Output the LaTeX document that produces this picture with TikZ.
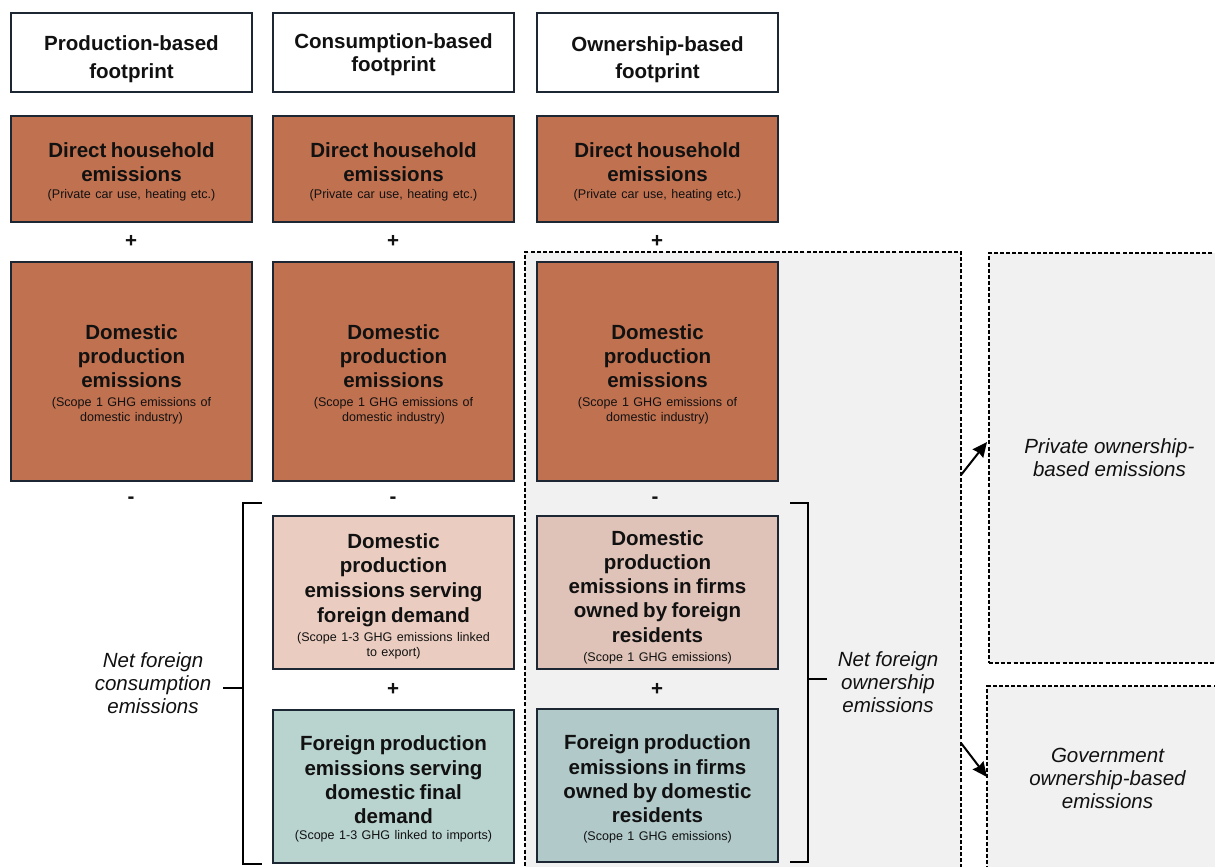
\documentclass[tikz,border=0pt]{standalone}
\usepackage{fontspec}
\setmainfont{Liberation Sans}
\usetikzlibrary{arrows.meta,calc}
\definecolor{edge}{HTML}{1C2733}
\definecolor{brick}{HTML}{C07150}
\definecolor{pinkA}{HTML}{EACDC0}
\definecolor{pinkB}{HTML}{E0C3B8}
\definecolor{tealA}{HTML}{B9D3CF}
\definecolor{tealB}{HTML}{B1C9C9}
\definecolor{greyfill}{HTML}{F1F1F1}
\definecolor{ink}{HTML}{111111}
% #1 baselineskip, #2 strut height of first line, #3 text
\newcommand{\ttl}[3]{{\fontsize{15.4}{#1}\selectfont\bfseries\rule{0pt}{#2}#3\par}}
\newcommand{\subt}[2][3pt]{{\vspace{#1}\fontsize{9.4}{11.25}\selectfont #2\par}}
\tikzset{
  box/.style={draw=edge, line width=1.5pt, minimum width=180.75pt, align=center,
    text width=176pt, inner sep=0pt, text=ink},
  headbox/.style={box, fill=white, minimum height=59.25pt},
  directbox/.style={box, fill=brick, minimum height=79.5pt},
  dombox/.style={box, fill=brick, minimum height=164.25pt},
  lowbox/.style={box, minimum height=114.75pt},
  dashbox/.style={draw=black, line width=0.9pt, dash pattern=on 3pt off 1.6pt, fill=greyfill},
  sign/.style={font=\fontsize{15.4}{18}\selectfont\bfseries, text=ink, inner sep=0pt},
  note/.style={font=\fontsize{15.4}{17.25}\selectfont\itshape, align=center, text=ink, inner sep=0pt},
  brack/.style={draw=black, line width=1.5pt},
  arr/.style={draw=black, line width=1.5pt, -{Stealth[length=11pt,width=10pt,inset=1pt]}},
}
\begin{document}
\begin{tikzpicture}[x=0.75pt,y=-0.75pt]
\useasboundingbox (0,0) rectangle (1215,867);
\clip (0,0) rectangle (1215,867);
\fill[white] (0,0) rectangle (1215,867);

% grey dashed regions
\node[dashbox, minimum width=327pt, minimum height=471pt, inner sep=0pt] (own) at (743,566) {};
\node[dashbox, minimum width=180.75pt, minimum height=307.5pt, inner sep=0pt, font=\fontsize{15.4}{17.25}\selectfont\itshape, align=center, text=ink] (priv) at (1109.5,458) {Private ownership-\\based emissions};
\node[dashbox, minimum width=180.75pt, minimum height=138pt, inner sep=0pt, font=\fontsize{15.4}{17.25}\selectfont\itshape, align=center, text=ink] (gov) at (1107.5,778) {Government\\ownership-based\\emissions};

% headers
\node[headbox] (h1) at (131.5,52.5) {\ttl{21pt}{21pt}{Production-based\\footprint}};
\node[headbox] (h2) at (393.5,52.5) {\ttl{17.25pt}{14.3pt}{Consumption-based\\footprint}};
\node[headbox] (h3) at (657.5,52.5) {\ttl{20.5pt}{21.5pt}{Ownership-based\\footprint}};

% direct household
\node[directbox] (d1) at (131.5,169) {\ttl{18pt}{15pt}{Direct household\\emissions}\subt[1.5pt]{(Private car use, heating etc.)}};
\node[directbox] (d2) at (393.5,169) {\ttl{18pt}{15pt}{Direct household\\emissions}\subt[1.5pt]{(Private car use, heating etc.)}};
\node[directbox] (d3) at (657.5,169) {\ttl{18pt}{15pt}{Direct household\\emissions}\subt[1.5pt]{(Private car use, heating etc.)}};

% domestic production
\node[dombox] (p1) at (131.5,371.5) {\ttl{18pt}{16pt}{Domestic\\production\\emissions}\subt{(Scope 1 GHG emissions of\\domestic industry)}};
\node[dombox] (p2) at (393.5,371.5) {\ttl{18pt}{16pt}{Domestic\\production\\emissions}\subt{(Scope 1 GHG emissions of\\domestic industry)}};
\node[dombox] (p3) at (657.5,371.5) {\ttl{18pt}{16pt}{Domestic\\production\\emissions}\subt{(Scope 1 GHG emissions of\\domestic industry)}};

% lower boxes
\node[lowbox, fill=pinkA] (c1) at (393.5,592.5) {\ttl{18.4pt}{16.5pt}{Domestic\\production\\emissions serving\\foreign demand}\subt{(Scope 1-3 GHG emissions linked\\to export)}};
\node[lowbox, fill=tealA] (c2) at (393.5,786.5) {\ttl{18.2pt}{15.1pt}{Foreign production\\emissions serving\\domestic final\\demand}\subt[0.75pt]{(Scope 1-3 GHG linked to imports)}};
\node[lowbox, fill=pinkB] (o1) at (657.5,592.5) {\ttl{18.2pt}{18pt}{Domestic\\production\\emissions in firms\\owned by foreign\\residents}\subt[3.25pt]{(Scope 1 GHG emissions)}};
\node[lowbox, fill=tealB] (o2) at (657.5,785.5) {\ttl{18.2pt}{16.5pt}{Foreign production\\emissions in firms\\owned by domestic\\residents}\subt[2.25pt]{(Scope 1 GHG emissions)}};

% signs
\node[sign] (s1) at (131,241) {+};
\node[sign] (s2) at (393,241) {+};
\node[sign] (s3) at (657,241) {+};
\node[sign] (m1) at (131,500) {-};
\node[sign] (m2) at (393,500) {-};
\node[sign] (m3) at (655,500) {-};
\node[sign] (s4) at (393,689) {+};
\node[sign] (s5) at (657,689) {+};

% brackets
\draw[brack] (262,503) -- (243,503) -- (243,864) -- (262,864);
\draw[brack] (243,688) -- (223,688);
\draw[brack] (790,503) -- (808,503) -- (808,862) -- (790,862);
\draw[brack] (808,679) -- (827,679);

\node[note] (ncons) at (153,683) {Net foreign\\consumption\\emissions};
\node[note] (nown) at (888,682) {Net foreign\\ownership\\emissions};

% arrows
\coordinate (a1s) at (961,475);
\coordinate (a1e) at (987,442);
\coordinate (a2s) at (961,743);
\coordinate (a2e) at (987,777);
\draw[arr] (a1s) -- (a1e);
\draw[arr] (a2s) -- (a2e);
\end{tikzpicture}
\end{document}
